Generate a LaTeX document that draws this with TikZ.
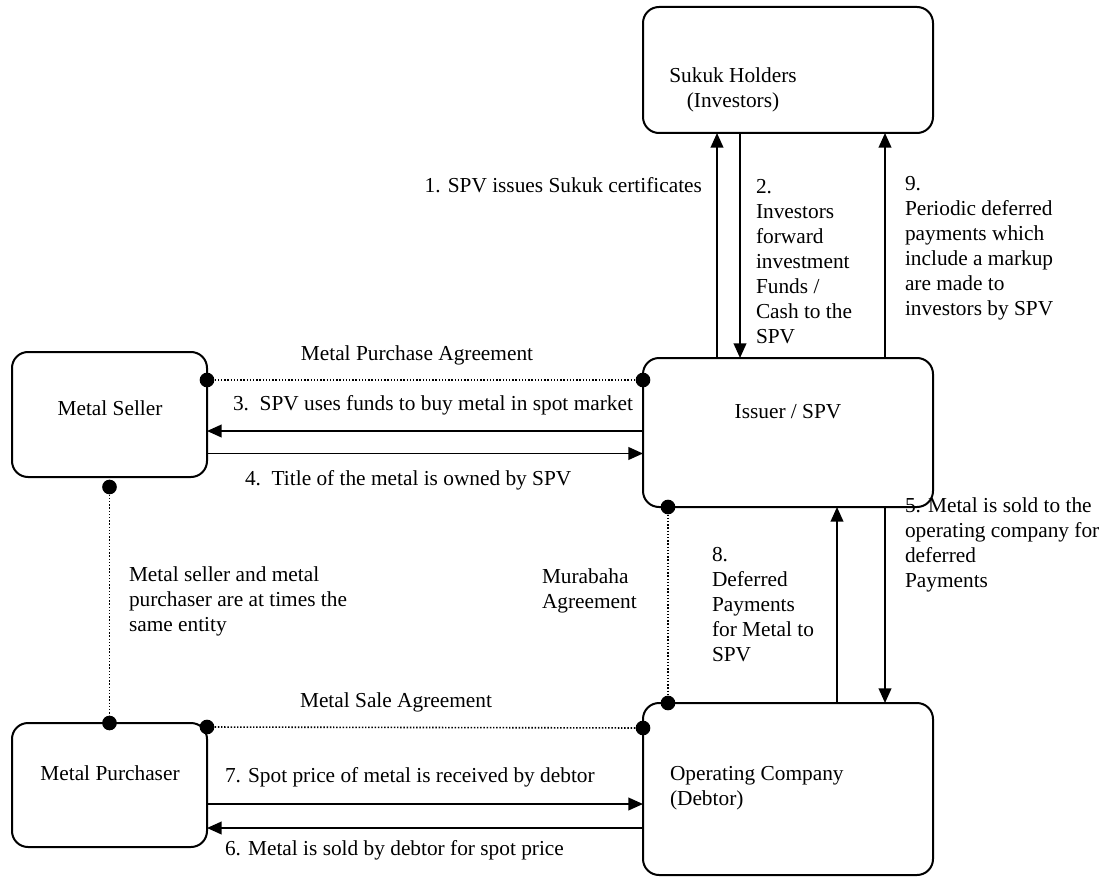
\documentclass[tikz,border=0pt]{standalone}
\usepackage{fontspec}
\setmainfont{Liberation Serif}
\usetikzlibrary{arrows.meta,calc}
\begin{document}
\begin{tikzpicture}[x=0.75pt,y=-0.75pt,
  box/.style={draw,line width=1.5pt,rounded corners=12pt,inner sep=0pt,outer sep=0pt},
  txt/.style={inner sep=0pt,outer sep=0pt,font=\fontsize{16}{18.75}\selectfont},
  arr/.style={line width=1.4pt,-{Triangle[length=11pt,width=9.5pt]}},
  pin/.style={circle,fill=black,inner sep=0pt,minimum size=11pt},
  agree/.style={line width=1.2pt,dash pattern=on 1.1pt off 1.3pt}]
\useasboundingbox (0,0) rectangle (1112,877);

% parties
\node[box,minimum width=217.5pt,minimum height=94.5pt] (sukuk) at (788,70) {};
\node[box,minimum width=217.5pt,minimum height=111.75pt] (spv) at (788,432.5) {};
\node[box,minimum width=146.25pt,minimum height=93.75pt] (seller) at (109.5,414.5) {};
\node[box,minimum width=146.25pt,minimum height=93pt] (purch) at (109.5,785) {};
\node[box,minimum width=217.5pt,minimum height=129pt] (opco) at (788,789) {};

\node[txt,align=center] (sukuklbl) at (733,90) {Sukuk Holders\\(Investors)};
\node[txt] (spvlbl) at (788,412) {Issuer / SPV};
\node[txt] (sellerlbl) at (110,408) {Metal Seller};
\node[txt] (purchlbl) at (110,773) {Metal Purchaser};
\node[txt,align=left,anchor=west] (opcolbl) at (670,788) {Operating Company\\(Debtor)};

% cash and title flows
\draw[arr] ($(spv.north west)+(74,0)$) -- ($(sukuk.south west)+(74,0)$);
\draw[arr] ($(sukuk.south west)+(97,0)$) -- ($(spv.north west)+(97,0)$);
\draw[arr] ($(spv.north west)+(242,0)$) -- ($(sukuk.south west)+(242,0)$);
\draw[arr] ($(spv.west)+(0,-1.5)$) -- ($(seller.east)+(0,16.5)$);
\draw[arr] ($(seller.east)+(0,39)$) -- ($(spv.west)+(0,21)$);
\draw[arr] ($(spv.south west)+(242,0)$) -- ($(opco.north west)+(242,0)$);
\draw[arr] ($(opco.north west)+(194,0)$) -- ($(spv.south west)+(194,0)$);
\draw[arr] ($(purch.east)+(0,19)$) -- ($(opco.west)+(0,15)$);
\draw[arr] ($(opco.west)+(0,39)$) -- ($(purch.east)+(0,43)$);

% agreements
\node[pin] (pa1) at ($(seller.north east)+(0,28)$) {};
\node[pin] (pa2) at ($(spv.north west)+(0,22)$) {};
\node[pin] (sb1) at ($(seller.south)+(0,10)$) {};
\node[pin] (sb2) at (purch.north) {};
\node[pin] (sa1) at ($(purch.north east)+(0,4)$) {};
\node[pin] (sa2) at ($(opco.north west)+(0,25)$) {};
\node[pin] (mu1) at ($(spv.south west)+(25,0)$) {};
\node[pin] (mu2) at ($(opco.north west)+(25,0)$) {};
\draw[agree] (pa1) -- (pa2);
\draw[agree] (sb1) -- (sb2);
\draw[agree] (sa1) -- (sa2);
\draw[agree] (mu1) -- (mu2);

% step labels
\node[txt,anchor=east] (t1) at (702,185) {1. SPV issues Sukuk certificates};
\node[txt,align=left,anchor=west] (t2) at (756,262) {2.\\Investors\\forward\\investment\\Funds /\\Cash to the\\SPV};
\node[txt,align=left,anchor=west] (t9) at (905,248) {9.\\Periodic deferred\\payments which\\include a markup\\are made to\\investors by SPV};
\node[txt] (tpa) at (417,355) {Metal Purchase Agreement};
\node[txt,anchor=west] (t3) at (233,405) {3.\ \ SPV uses funds to buy metal in spot market};
\node[txt,anchor=west] (t4) at (245,480) {4.\ \ Title of the metal is owned by SPV};
\node[txt,align=left,anchor=west] (t5) at (905,545) {5. Metal is sold to the\\operating company for\\deferred\\Payments};
\node[txt,align=left,anchor=west] (t8) at (712,605) {8.\\Deferred\\Payments\\for Metal to\\SPV};
\node[txt,align=left,anchor=west] (tmu) at (542,591) {Murabaha\\Agreement};
\node[txt,align=left,anchor=west] (tsame) at (129,601) {Metal seller and metal\\purchaser are at times the\\same entity};
\node[txt] (tsa) at (396,702) {Metal Sale Agreement};
\node[txt,anchor=west] (t7) at (225,777) {7. Spot price of metal is received by debtor};
\node[txt,anchor=west] (t6) at (225,850) {6. Metal is sold by debtor for spot price};
\end{tikzpicture}
\end{document}
